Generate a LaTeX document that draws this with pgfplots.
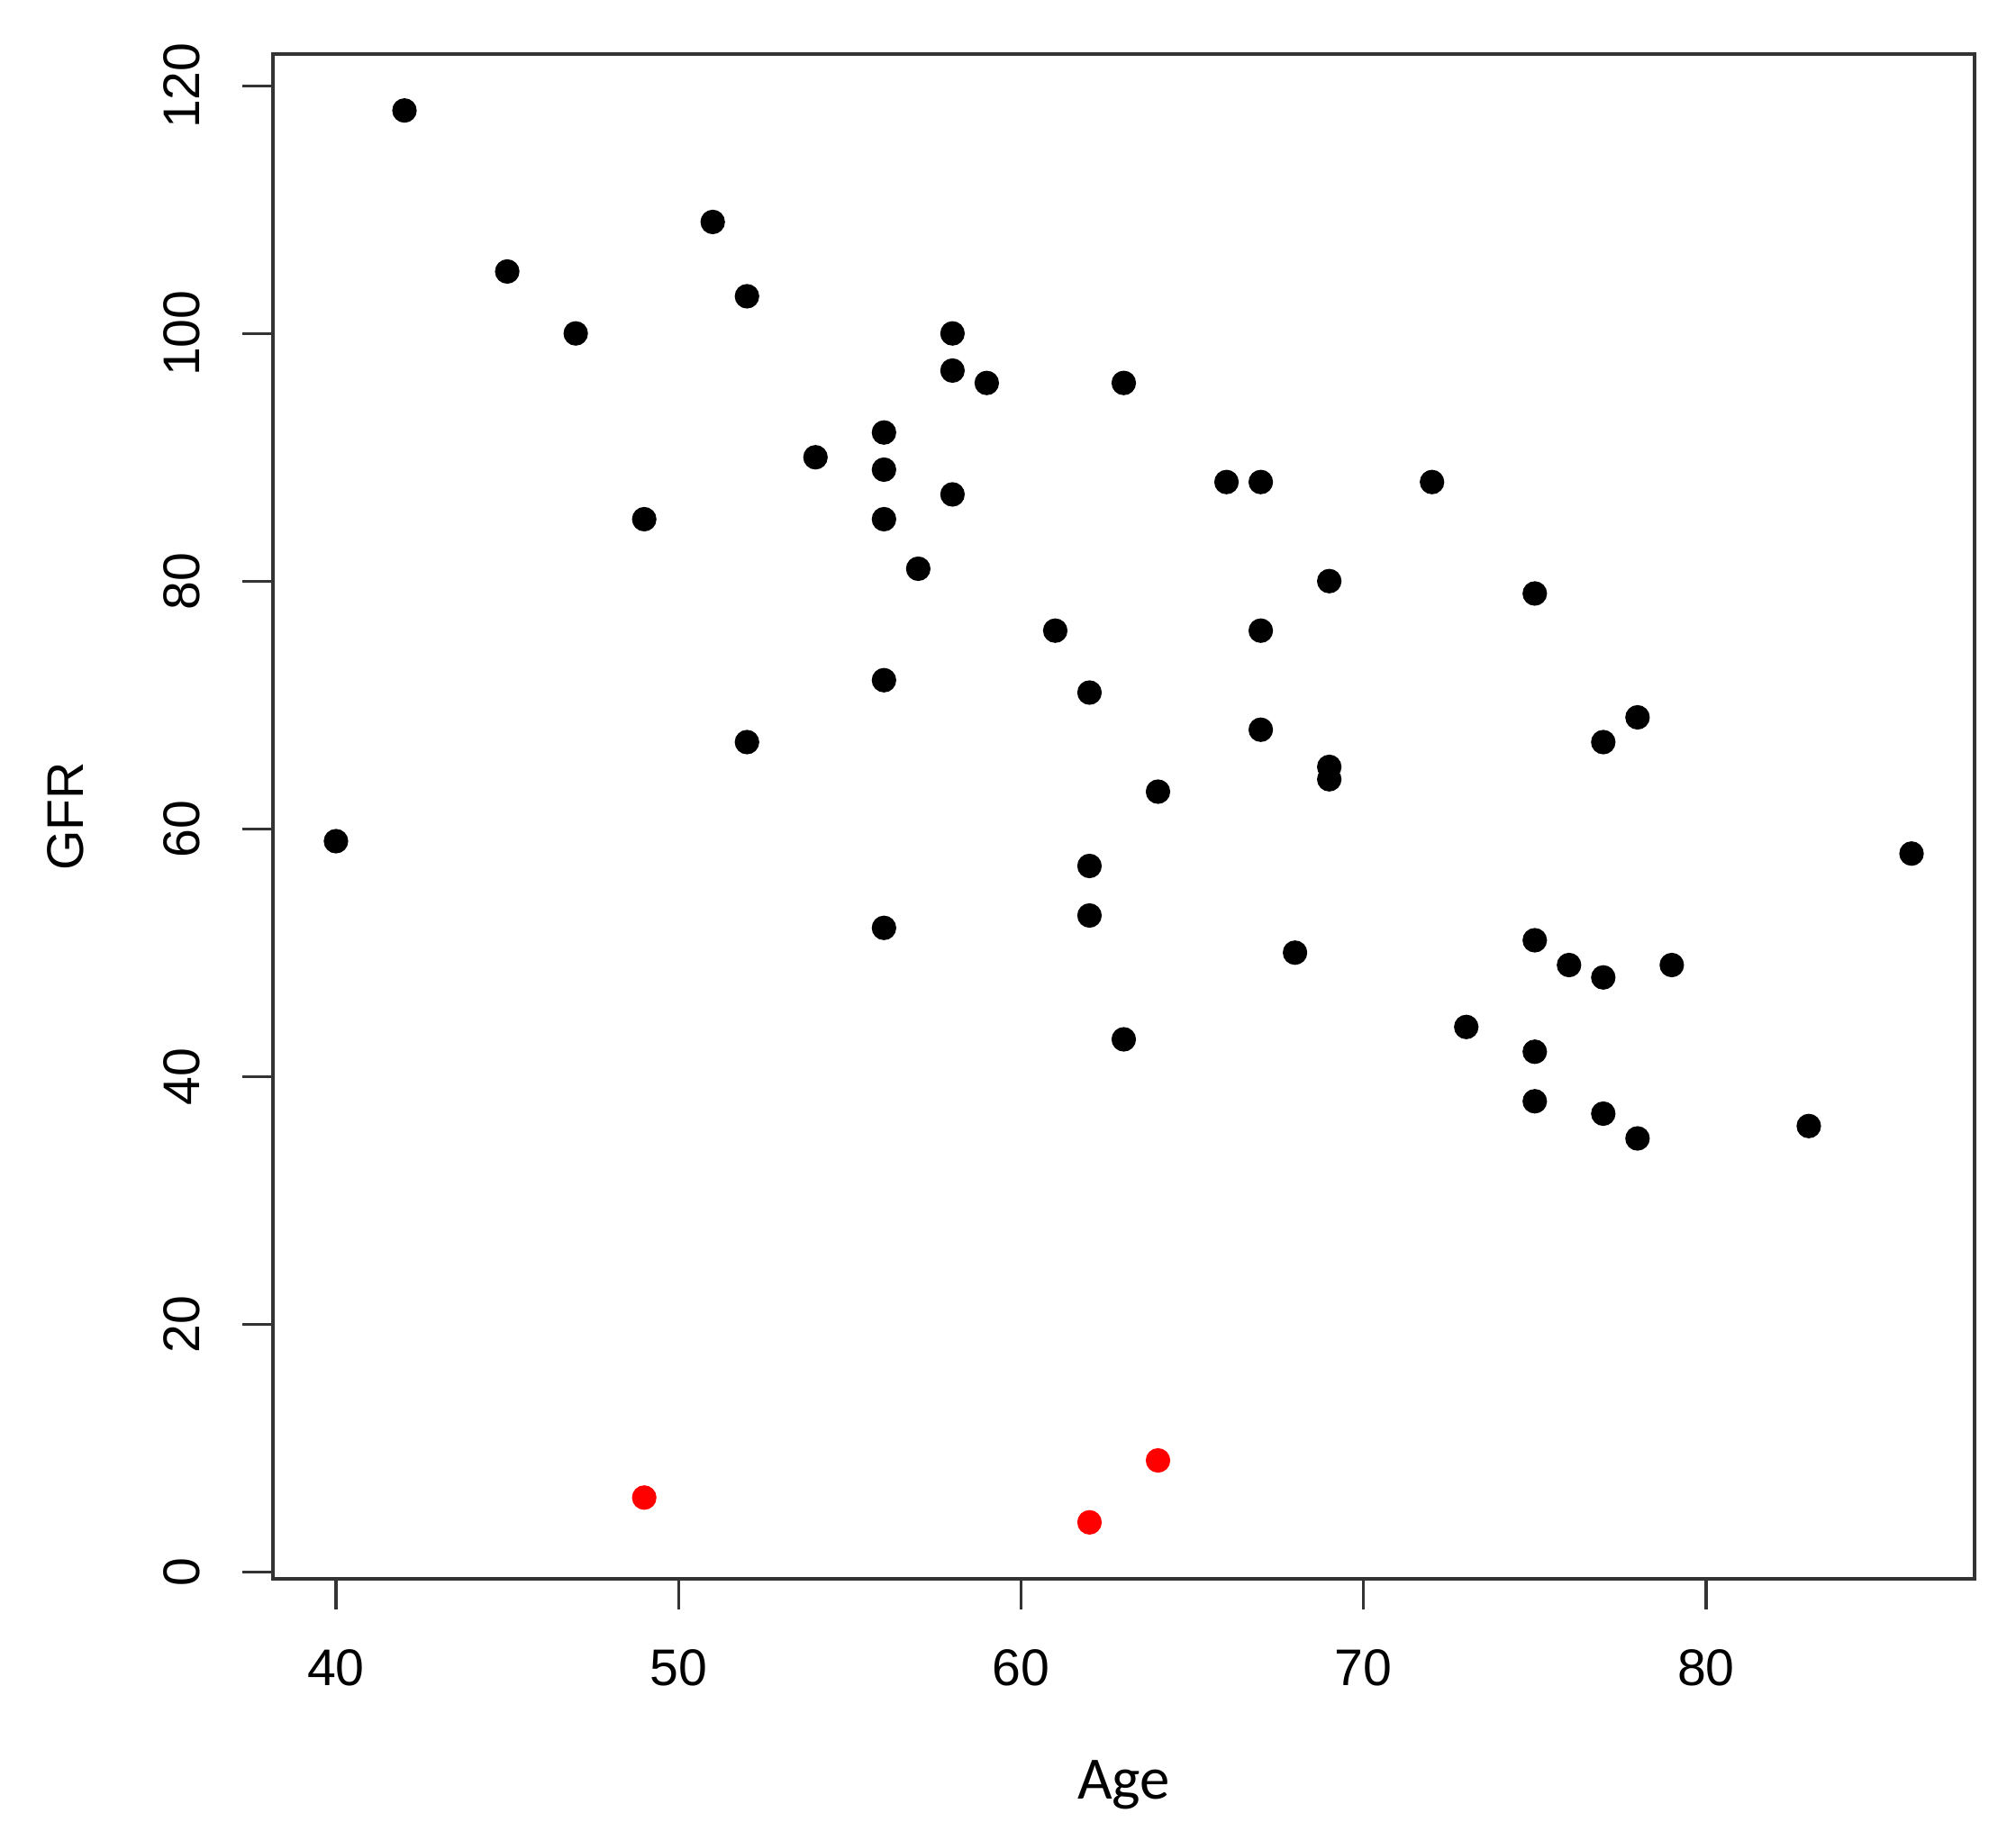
\documentclass[border=0pt]{standalone}
\usepackage{fontspec}
\setmainfont{Liberation Sans}
\newfontfamily\carlito{Carlito}
\usepackage{pgfplots}
\pgfplotsset{compat=1.18}
\usetikzlibrary{calc}

\begin{document}
\begin{tikzpicture}
\begin{axis}[
    scale only axis,
    width=472.25pt,
    height=423.25pt,
    xmin=38.16, xmax=87.84,
    ymin=-0.56, ymax=122.56,
    xtick={40,50,60,70,80},
    ytick={0,20,40,60,80,100,120},
    xtick pos=bottom,
    ytick pos=left,
    tick align=outside,
    major tick length=8.4pt,
    axis line style={line width=0.8pt, black!80},
    every tick/.style={line width=0.8pt, black!80},
    /pgf/number format/assume math mode=true,
    ticklabel style={font=\fontsize{14.3}{14.3}\selectfont},
    xticklabel style={anchor=base, yshift=-21.3pt},
    yticklabel style={rotate=90, anchor=base},
    yticklabel shift=12pt,
    xlabel={\carlito\fontsize{16.7}{16.7}\selectfont Age},
    ylabel={\fontsize{14.3}{14.3}\selectfont GFR},
    xlabel style={at={(axis description cs:0.5,-0.1447)}, anchor=base},
    ylabel style={at={(axis description cs:-0.1112,0.5)}, anchor=base},
    clip=false,
]
\addplot[only marks, mark=*, mark size=3.2pt, black] coordinates {
    (42,118) (45,105) (47,100) (51,109) (52,103) (49,85) (40,59) (52,67)
    (54,90) (56,92) (56,89) (56,85) (57,81) (56,72) (56,52)
    (58,100) (58,97) (59,96) (58,87) (61,76) (62,71) (62,57) (62,53)
    (63,96) (63,43) (64,63) (66,88) (67,88) (67,76) (67,68) (68,50)
    (69,80) (69,65) (69,64) (72,88) (73,44) (75,79) (75,51) (75,42)
    (75,38) (76,49) (77,67) (77,48) (77,37) (78,69) (78,35) (79,49)
    (83,36) (86,58)
};
\addplot[only marks, mark=*, mark size=3.2pt, red, mark options={fill=red, draw=red}] coordinates {
    (49,6) (62,4) (64,9)
};
\coordinate (sw) at (rel axis cs:0,0);
\coordinate (ne) at (rel axis cs:1,1);
\end{axis}
\pgfresetboundingbox
\path[use as bounding box] ($(sw)+(-75.75pt,-70pt)$) rectangle ($(ne)+(11.5pt,15pt)$);
\end{tikzpicture}
\end{document}
